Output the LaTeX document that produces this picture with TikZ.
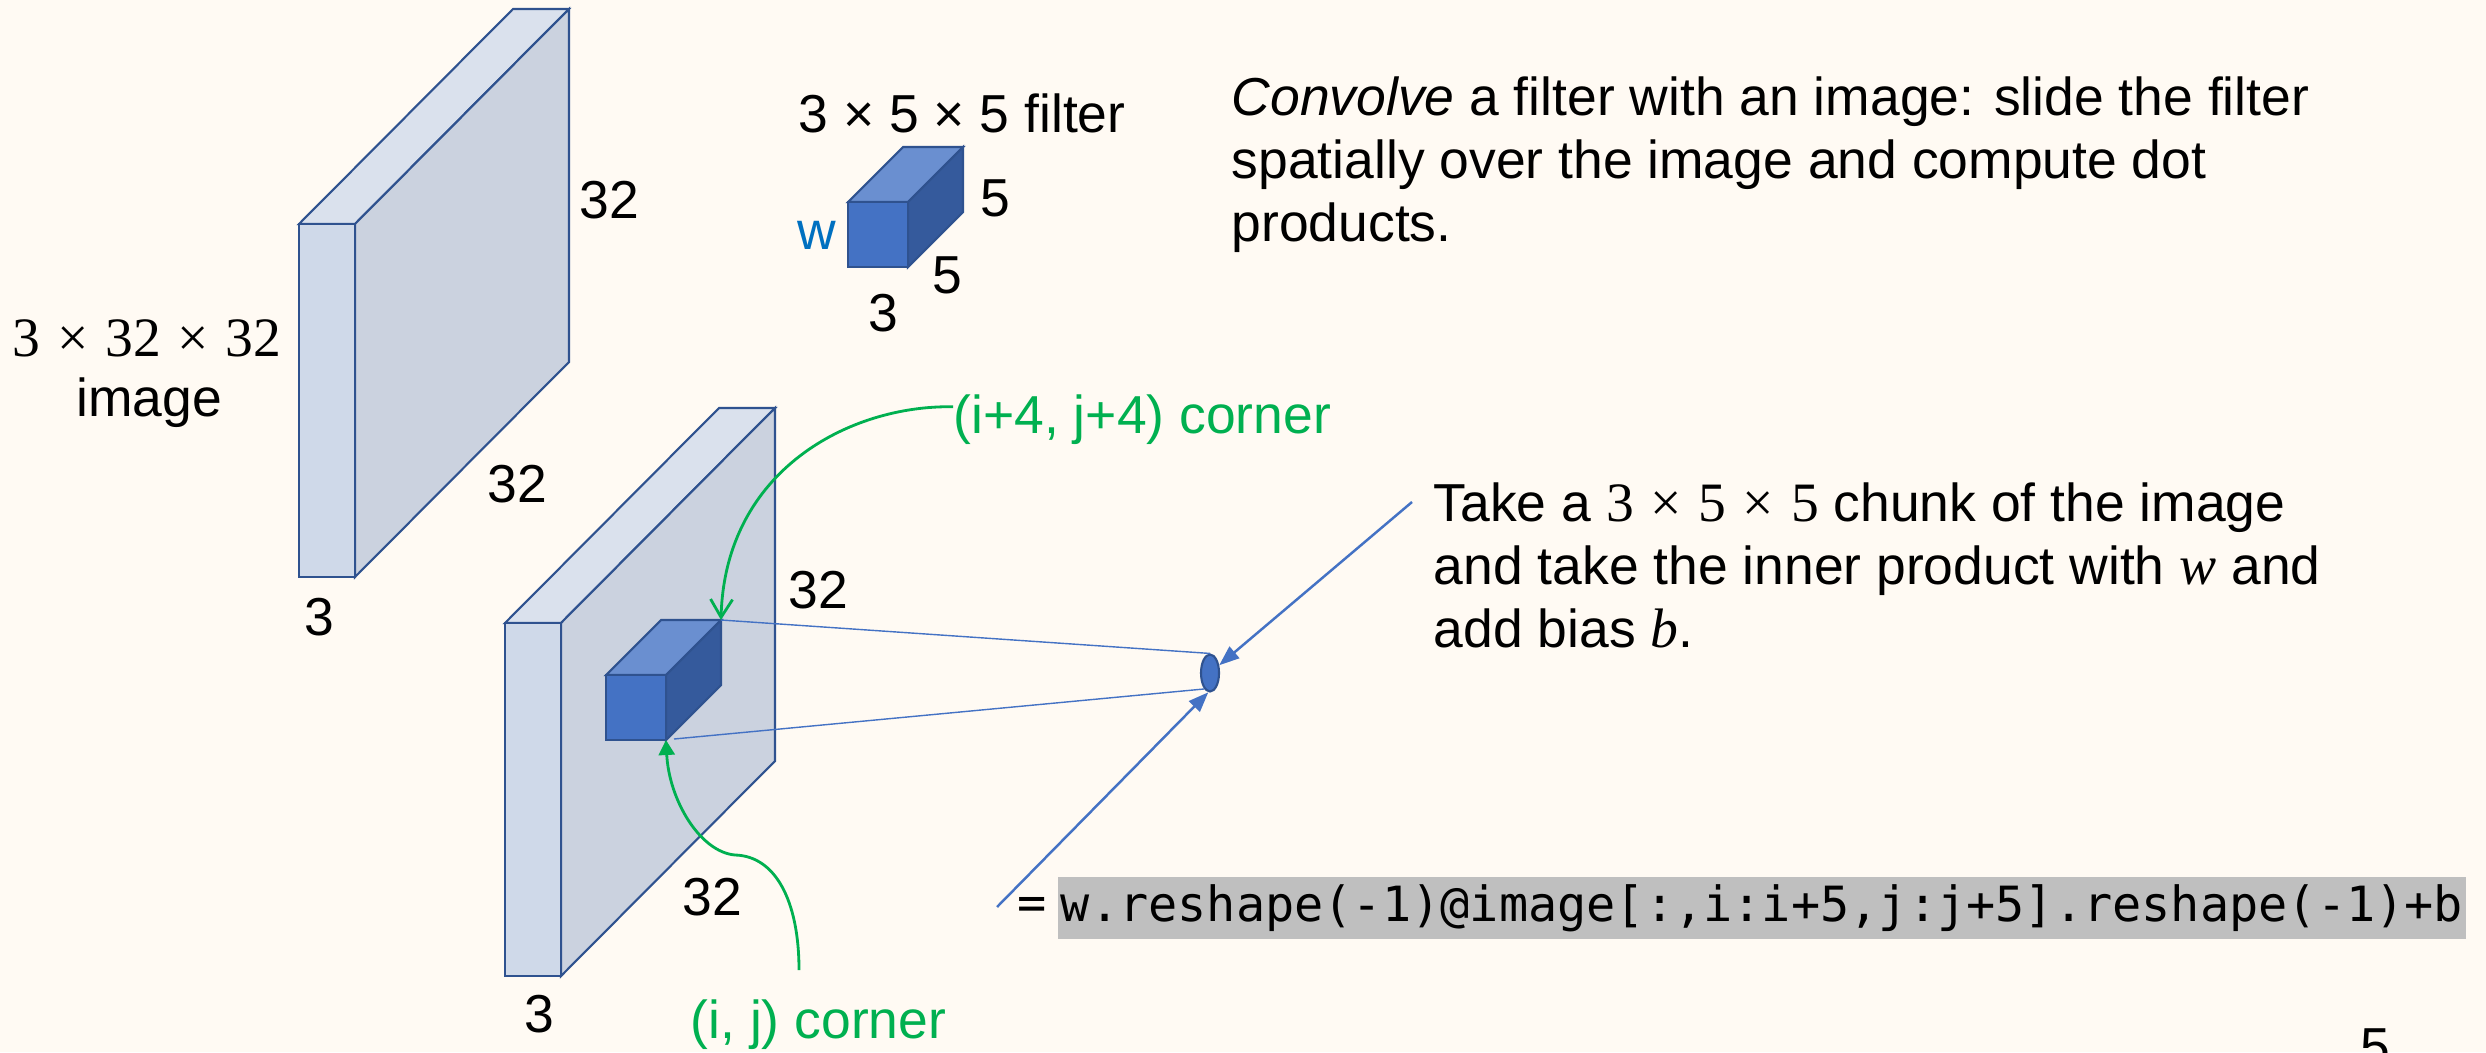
\documentclass[tikz,border=0pt]{standalone}
\usepackage[no-math]{fontspec}
\setmainfont{Liberation Sans}
\newfontfamily\codefont{DejaVu Sans Mono}
\newfontfamily\mathserif{Liberation Serif}[Scale=1.04]
\usetikzlibrary{
  arrows.meta,
  shapes.geometric,
  positioning
}
\definecolor{slidebg}{RGB}{255,250,243}
\definecolor{slabedge}{RGB}{47,82,143}
\definecolor{slabfront}{RGB}{207,217,233}
\definecolor{slabtop}{RGB}{218,225,237}
\definecolor{slabside}{RGB}{203,210,223}
\definecolor{cubefront}{RGB}{68,114,196}
\definecolor{cubetop}{RGB}{106,143,208}
\definecolor{cubeside}{RGB}{53,90,156}
\definecolor{wblue}{RGB}{0,112,192}
\definecolor{cgreen}{RGB}{0,176,80}
\definecolor{codegray}{RGB}{191,191,191}
\newcommand{\slidefont}{\fontsize{15.2}{17.9}\selectfont}
\newcommand{\by}{\hspace{0.3em}×\hspace{0.3em}}
% thin 3-deep slab, front top-left corner at (#1,#2)
\newcommand{\drawslab}[2]{%
  \draw[face, fill=slabtop] (#1,#2) -- ++(214,-215) -- ++(56,0) -- ++(-214,215) -- cycle;
  \draw[face, fill=slabside] (#1+56,#2) -- ++(214,-215) -- ++(0,353) -- ++(-214,215) -- cycle;
  \draw[face, fill=slabfront] (#1,#2) rectangle ++(56,353);}
% 3x5x5 block
\newcommand{\drawcube}[2]{%
  \draw[face, fill=cubetop] (#1,#2) -- ++(55,-55) -- ++(60,0) -- ++(-55,55) -- cycle;
  \draw[face, fill=cubeside] (#1+60,#2) -- ++(55,-55) -- ++(0,65) -- ++(-55,55) -- cycle;
  \draw[face, fill=cubefront] (#1,#2) rectangle ++(60,65);}

\begin{document}
\begin{tikzpicture}[
  x=0.01cm, y=-0.01cm,
  face/.style={draw=slabedge, line width=0.6pt},
  lbl/.style={font=\slidefont, inner sep=0pt},
  ray/.style={-{Triangle[length=0.2cm,width=0.15cm]}, line width=0.7pt, cubefront},
  thinray/.style={line width=0.4pt, cubefront},
  curve/.style={line width=0.8pt, cgreen},
  codebox/.style={fill=codegray, font=\codefont\fontsize{13.8}{16}\selectfont, inner xsep=0.03cm, inner ysep=0pt, minimum height=0.62cm}
]
  \useasboundingbox (0,0) rectangle (2486,1052);
  \clip (0,0) rectangle (2486,1052);
  \fill[slidebg] (0,0) rectangle (2486,1052);

  % input image
  \drawslab{299}{224}
  \node[lbl] (sz) at (147,338) {\mathserif 3\by32\by32};
  \node[lbl] (img) at (149,403) {image};
  \node[lbl] (h1) at (609,200) {32};
  \node[lbl] (w1) at (517,484) {32};
  \node[lbl] (d1) at (319,617) {3};

  % filter
  \drawcube{848}{202}
  \node[lbl] (fsz) at (962,113) {3 × 5 × 5 filter};
  \node[lbl, text=wblue] (wlab) at (817,235) {w};
  \node[lbl] (fh) at (995,198) {5};
  \node[lbl] (fw) at (947,275) {5};
  \node[lbl] (fd) at (883,313) {3};

  \node[lbl, anchor=north west, align=left] (conv) at (1231,76)
    {\textit{Convolve} a filter with an image: slide the filter\\spatially over the image and compute dot\\products.};

  % image with chunk
  \drawslab{505}{623}
  \drawcube{606}{675}
  \node[lbl] (h2) at (818,590) {32};
  \node[lbl] (w2) at (712,897) {32};
  \node[lbl] (d2) at (539,1014) {3};

  \coordinate (cornerhi) at (721,620);
  \coordinate (cornerlo) at (666,740);
  \coordinate (chunkbot) at (674,739);
  \node[ellipse, draw=slabedge, fill=cubefront, line width=0.6pt,
        minimum width=0.18cm, minimum height=0.37cm, inner sep=0pt] (dot) at (1210,673) {};
  \draw[thinray] (cornerhi) -- (dot.north);
  \draw[thinray] (chunkbot) -- (dot.250);

  \node[lbl, anchor=north west, align=left] (take) at (1433,482)
    {Take a {\mathserif 3\by5\by5} chunk of the image\\and take the inner product with {\mathserif\itshape w} and\\add bias {\mathserif\itshape b}.};
  \coordinate (takefoot) at (1412,502);
  \draw[ray] (takefoot) -- (dot);

  \node[codebox] (code) at (1762,908) {w.reshape(-1)@image[:,i:i+5,j:j+5].reshape(-1)+b};
  \node[lbl, font=\codefont\fontsize{13.8}{16}\selectfont, left=0.1cm of code] (eq) {=};
  \coordinate (codefoot) at (997,907);
  \draw[ray] (codefoot) -- (dot.265);

  % corner labels
  \node[lbl, text=cgreen, anchor=west] (hilab) at (953,420) {(i+4, j+4) corner};
  \node[lbl, text=cgreen, anchor=west] (lolab) at (690,1025) {(i, j) corner};
  \coordinate (lotail) at (799,970);
  \draw[curve, -{Straight Barb[length=0.18cm,width=0.22cm]}] (hilab.176)
    .. controls (850,405) and (725,470) .. (cornerhi);
  \draw[curve, -{Triangle[length=0.15cm,width=0.16cm]}] (lotail)
    .. controls (799,900) and (775,856) .. (735,855)
    .. controls (700,852) and (669,800) .. (cornerlo);

  \node[lbl, anchor=north] (pgno) at (2375,1028) {5};
\end{tikzpicture}
\end{document}
